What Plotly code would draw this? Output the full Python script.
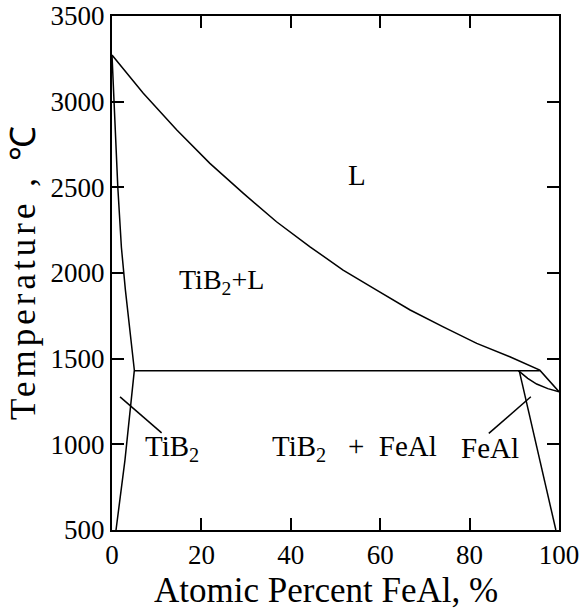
import plotly.graph_objects as go

# Liquidus (L / TiB2+L boundary) and its end at FeAl melting point
liq_x = [0, 7.0, 14.5, 21.9, 29.4, 36.8, 44.3, 51.7, 59.2, 66.7, 74.1, 81.6, 89.0, 95.7, 100]
liq_T = [3272, 3049, 2835, 2640, 2465, 2299, 2153, 2017, 1900, 1784, 1686, 1589, 1511, 1433, 1307]

# TiB2 side: liquidus-side boundary then solvus
tib2_x = [0, 0.6, 1.3, 2.1, 3.0, 5.0, 2.9, 0.9]
tib2_T = [3272, 2900, 2500, 2150, 1900, 1433, 908, 500]

# Eutectic horizontal
eut_x = [5.0, 95.7]
eut_T = [1430, 1430]

# FeAl solidus curve
fsol_x = [90.9, 93.0, 95.0, 97.5, 100]
fsol_T = [1430, 1385, 1352, 1325, 1307]

# FeAl solvus
fsv_x = [91.1, 99.3]
fsv_T = [1430, 500]

# Leader lines
lead1_x = [1.8, 11.1]
lead1_T = [1277, 1067]
lead2_x = [93.7, 84.3]
lead2_T = [1278, 1064]

# Region labels
lab_text = ["L", "TiB<sub>2</sub>+L", "TiB<sub>2</sub>",
            "TiB<sub>2</sub>&nbsp;&nbsp; + &nbsp;FeAl", "FeAl"]
lab_x = [54.7, 24.5, 13.4, 54.3, 84.5]
lab_T = [2572, 1949, 978, 978, 978]
lab_size = [29, 28, 29, 29, 29]

x_ticks = [0, 20, 40, 60, 80, 100]
y_ticks = [500, 1000, 1500, 2000, 2500, 3000, 3500]

FONT = "Liberation Serif"
fig = go.Figure()
line = dict(color="black", width=1.5)
for xs, ys in [(liq_x, liq_T), (tib2_x, tib2_T), (eut_x, eut_T), (fsol_x, fsol_T),
               (fsv_x, fsv_T), (lead1_x, lead1_T), (lead2_x, lead2_T)]:
    fig.add_trace(go.Scatter(x=xs, y=ys, mode="lines", line=line, showlegend=False,
                             hoverinfo="skip"))

for t, x, y, s in zip(lab_text, lab_x, lab_T, lab_size):
    fig.add_annotation(x=x, y=y, text=t, showarrow=False,
                       font=dict(family=FONT, size=s, color="black"))

# Axis titles as annotations
fig.add_annotation(xref="paper", yref="paper", x=0.479, y=-0.117,
                   xanchor="center", yanchor="middle", showarrow=False,
                   text="Atomic Percent FeAl, %",
                   font=dict(family=FONT, size=35, color="black"))
fig.add_annotation(xref="paper", yref="paper", x=-0.197, y=0.504,
                   xanchor="center", yanchor="middle", showarrow=False, textangle=-90,
                   text='<span style="letter-spacing:4px">Temperature , ℃</span>',
                   font=dict(family=FONT, size=35, color="black"))

fig.update_layout(
    width=581, height=609,
    margin=dict(l=112, r=22, t=16, b=79, autoexpand=False),
    paper_bgcolor="white", plot_bgcolor="white",
    font=dict(family=FONT, color="black"),
    showlegend=False,
)
fig.update_xaxes(range=[0, 100], tickvals=x_ticks, ticks="inside", ticklen=12,
                 tickwidth=1.5, tickcolor="black", showline=True, linecolor="black",
                 linewidth=2, mirror="ticks", showgrid=False, zeroline=False,
                 automargin=False,
                 tickfont=dict(family=FONT, size=27, color="black"))
fig.update_yaxes(range=[500, 3500], tickvals=y_ticks, ticks="inside", ticklen=12,
                 tickwidth=1.5, tickcolor="black", showline=True, linecolor="black",
                 linewidth=2, mirror="ticks", showgrid=False, zeroline=False,
                 automargin=False,
                 tickfont=dict(family=FONT, size=27, color="black"))

fig.write_html("out.html")
